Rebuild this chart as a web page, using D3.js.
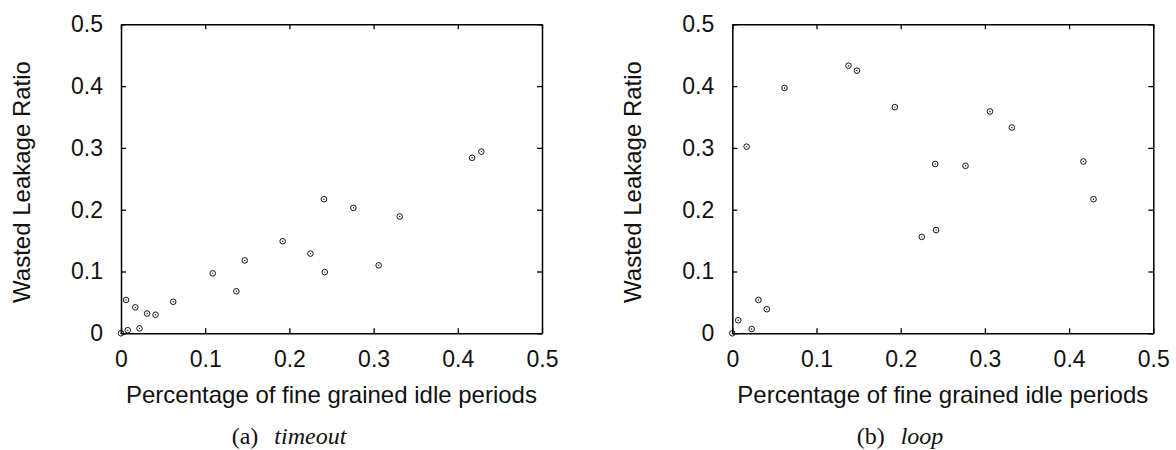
<!DOCTYPE html>
<html>
<head>
<meta charset="utf-8">
<script src="https://cdn.jsdelivr.net/npm/d3@7"></script>
<style>
  body { margin: 0; background: #fff; }
  .tick text { font-family: "Liberation Sans", Arial, sans-serif; font-size: 23px; fill: #111; }
</style>
</head>
<body>
<div id="chart"></div>
<script>
// axis ticks and titles
var xTicks = [0, 0.1, 0.2, 0.3, 0.4, 0.5];
var yTicks = [0, 0.1, 0.2, 0.3, 0.4, 0.5];
var xTitle = "Percentage of fine grained idle periods";
var yTitle = "Wasted Leakage Ratio";

// (a) timeout
var timeoutX = [0, 0.006, 0.008, 0.017, 0.022, 0.031, 0.041, 0.062, 0.109, 0.137, 0.147, 0.192, 0.225, 0.241, 0.242, 0.276, 0.306, 0.331, 0.417, 0.428];
var timeoutY = [0, 0.054, 0.005, 0.042, 0.008, 0.032, 0.030, 0.051, 0.097, 0.068, 0.118, 0.149, 0.129, 0.217, 0.099, 0.203, 0.110, 0.189, 0.284, 0.294];

// (b) loop
var loopX = [0, 0.007, 0.017, 0.023, 0.031, 0.041, 0.062, 0.138, 0.148, 0.193, 0.225, 0.241, 0.242, 0.277, 0.306, 0.332, 0.417, 0.429];
var loopY = [0, 0.021, 0.302, 0.007, 0.054, 0.039, 0.397, 0.433, 0.425, 0.366, 0.156, 0.274, 0.167, 0.271, 0.359, 0.333, 0.278, 0.217];

var captionLabels = ["(a)", "(b)"];
var captionNames = ["timeout", "loop"];

var width = 1176, height = 450;
var plotW = 421, plotH = 309, plotTop = 24.3;
var plotLefts = [121, 732.3];
var captionX = [289, 900];

var svg = d3.select("#chart")
    .append("svg")
    .attr("width", width)
    .attr("height", height);

var panels = [
    { xs: timeoutX, ys: timeoutY },
    { xs: loopX, ys: loopY }
];

var fmt = function (d) { return d === 0 ? "0" : d3.format(".1f")(d); };

panels.forEach(function (p, i) {
    var g = svg.append("g")
        .attr("transform", "translate(" + plotLefts[i] + "," + plotTop + ")");

    var x = d3.scaleLinear().domain([0, 0.5]).range([0, plotW]);
    var y = d3.scaleLinear().domain([0, 0.5]).range([plotH, 0]);

    // bottom + left with labels, ticks pointing inwards
    var xAxis = g.append("g")
        .attr("transform", "translate(0," + plotH + ")")
        .call(d3.axisBottom(x).tickValues(xTicks).tickFormat(fmt)
            .tickSizeInner(-5).tickSizeOuter(0).tickPadding(17.5));
    var yAxis = g.append("g")
        .call(d3.axisLeft(y).tickValues(yTicks).tickFormat(fmt)
            .tickSizeInner(-5).tickSizeOuter(0).tickPadding(18));

    // mirrored ticks on top and right
    var xTop = g.append("g")
        .call(d3.axisTop(x).tickValues(xTicks).tickFormat("")
            .tickSizeInner(-5).tickSizeOuter(0));
    var yRight = g.append("g")
        .attr("transform", "translate(" + plotW + ",0)")
        .call(d3.axisRight(y).tickValues(yTicks).tickFormat("")
            .tickSizeInner(-5).tickSizeOuter(0));

    [xAxis, yAxis, xTop, yRight].forEach(function (a) {
        a.select(".domain").attr("stroke", "#000").attr("stroke-width", 1.5);
        a.selectAll(".tick line").attr("stroke", "#000").attr("stroke-width", 1.3);
    });

    // points: small open circle with a dot
    var data = p.xs.map(function (v, k) { return { x: v, y: p.ys[k] }; });
    var pts = g.append("g")
        .selectAll("g")
        .data(data)
        .enter()
        .append("g")
        .attr("transform", function (d) { return "translate(" + x(d.x) + "," + y(d.y) + ")"; });
    pts.append("circle")
        .attr("r", 2.8)
        .attr("fill", "none")
        .attr("stroke", "#111")
        .attr("stroke-width", 1);
    pts.append("circle")
        .attr("r", 0.7)
        .attr("fill", "#111");

    // axis titles
    g.append("text")
        .attr("x", plotW / 2)
        .attr("y", 403 - plotTop)
        .attr("text-anchor", "middle")
        .style("font-family", "'Liberation Sans', Arial, sans-serif")
        .style("font-size", "24px")
        .style("fill", "#111")
        .text(xTitle);

    g.append("text")
        .attr("transform", "translate(" + (30 - 121) + "," + (182 - plotTop) + ") rotate(-90)")
        .attr("text-anchor", "middle")
        .style("font-family", "'Liberation Sans', Arial, sans-serif")
        .style("font-size", "24px")
        .style("fill", "#111")
        .text(yTitle);

    // sub-caption
    var cap = svg.append("text")
        .attr("x", captionX[i])
        .attr("y", 444)
        .attr("text-anchor", "middle")
        .style("font-family", "'Liberation Serif', 'Times New Roman', serif")
        .style("font-size", "24px")
        .style("fill", "#111");
    cap.append("tspan").text(captionLabels[i]);
    cap.append("tspan")
        .attr("dx", 16)
        .style("font-style", "italic")
        .text(captionNames[i]);
});
</script>
</body>
</html>
